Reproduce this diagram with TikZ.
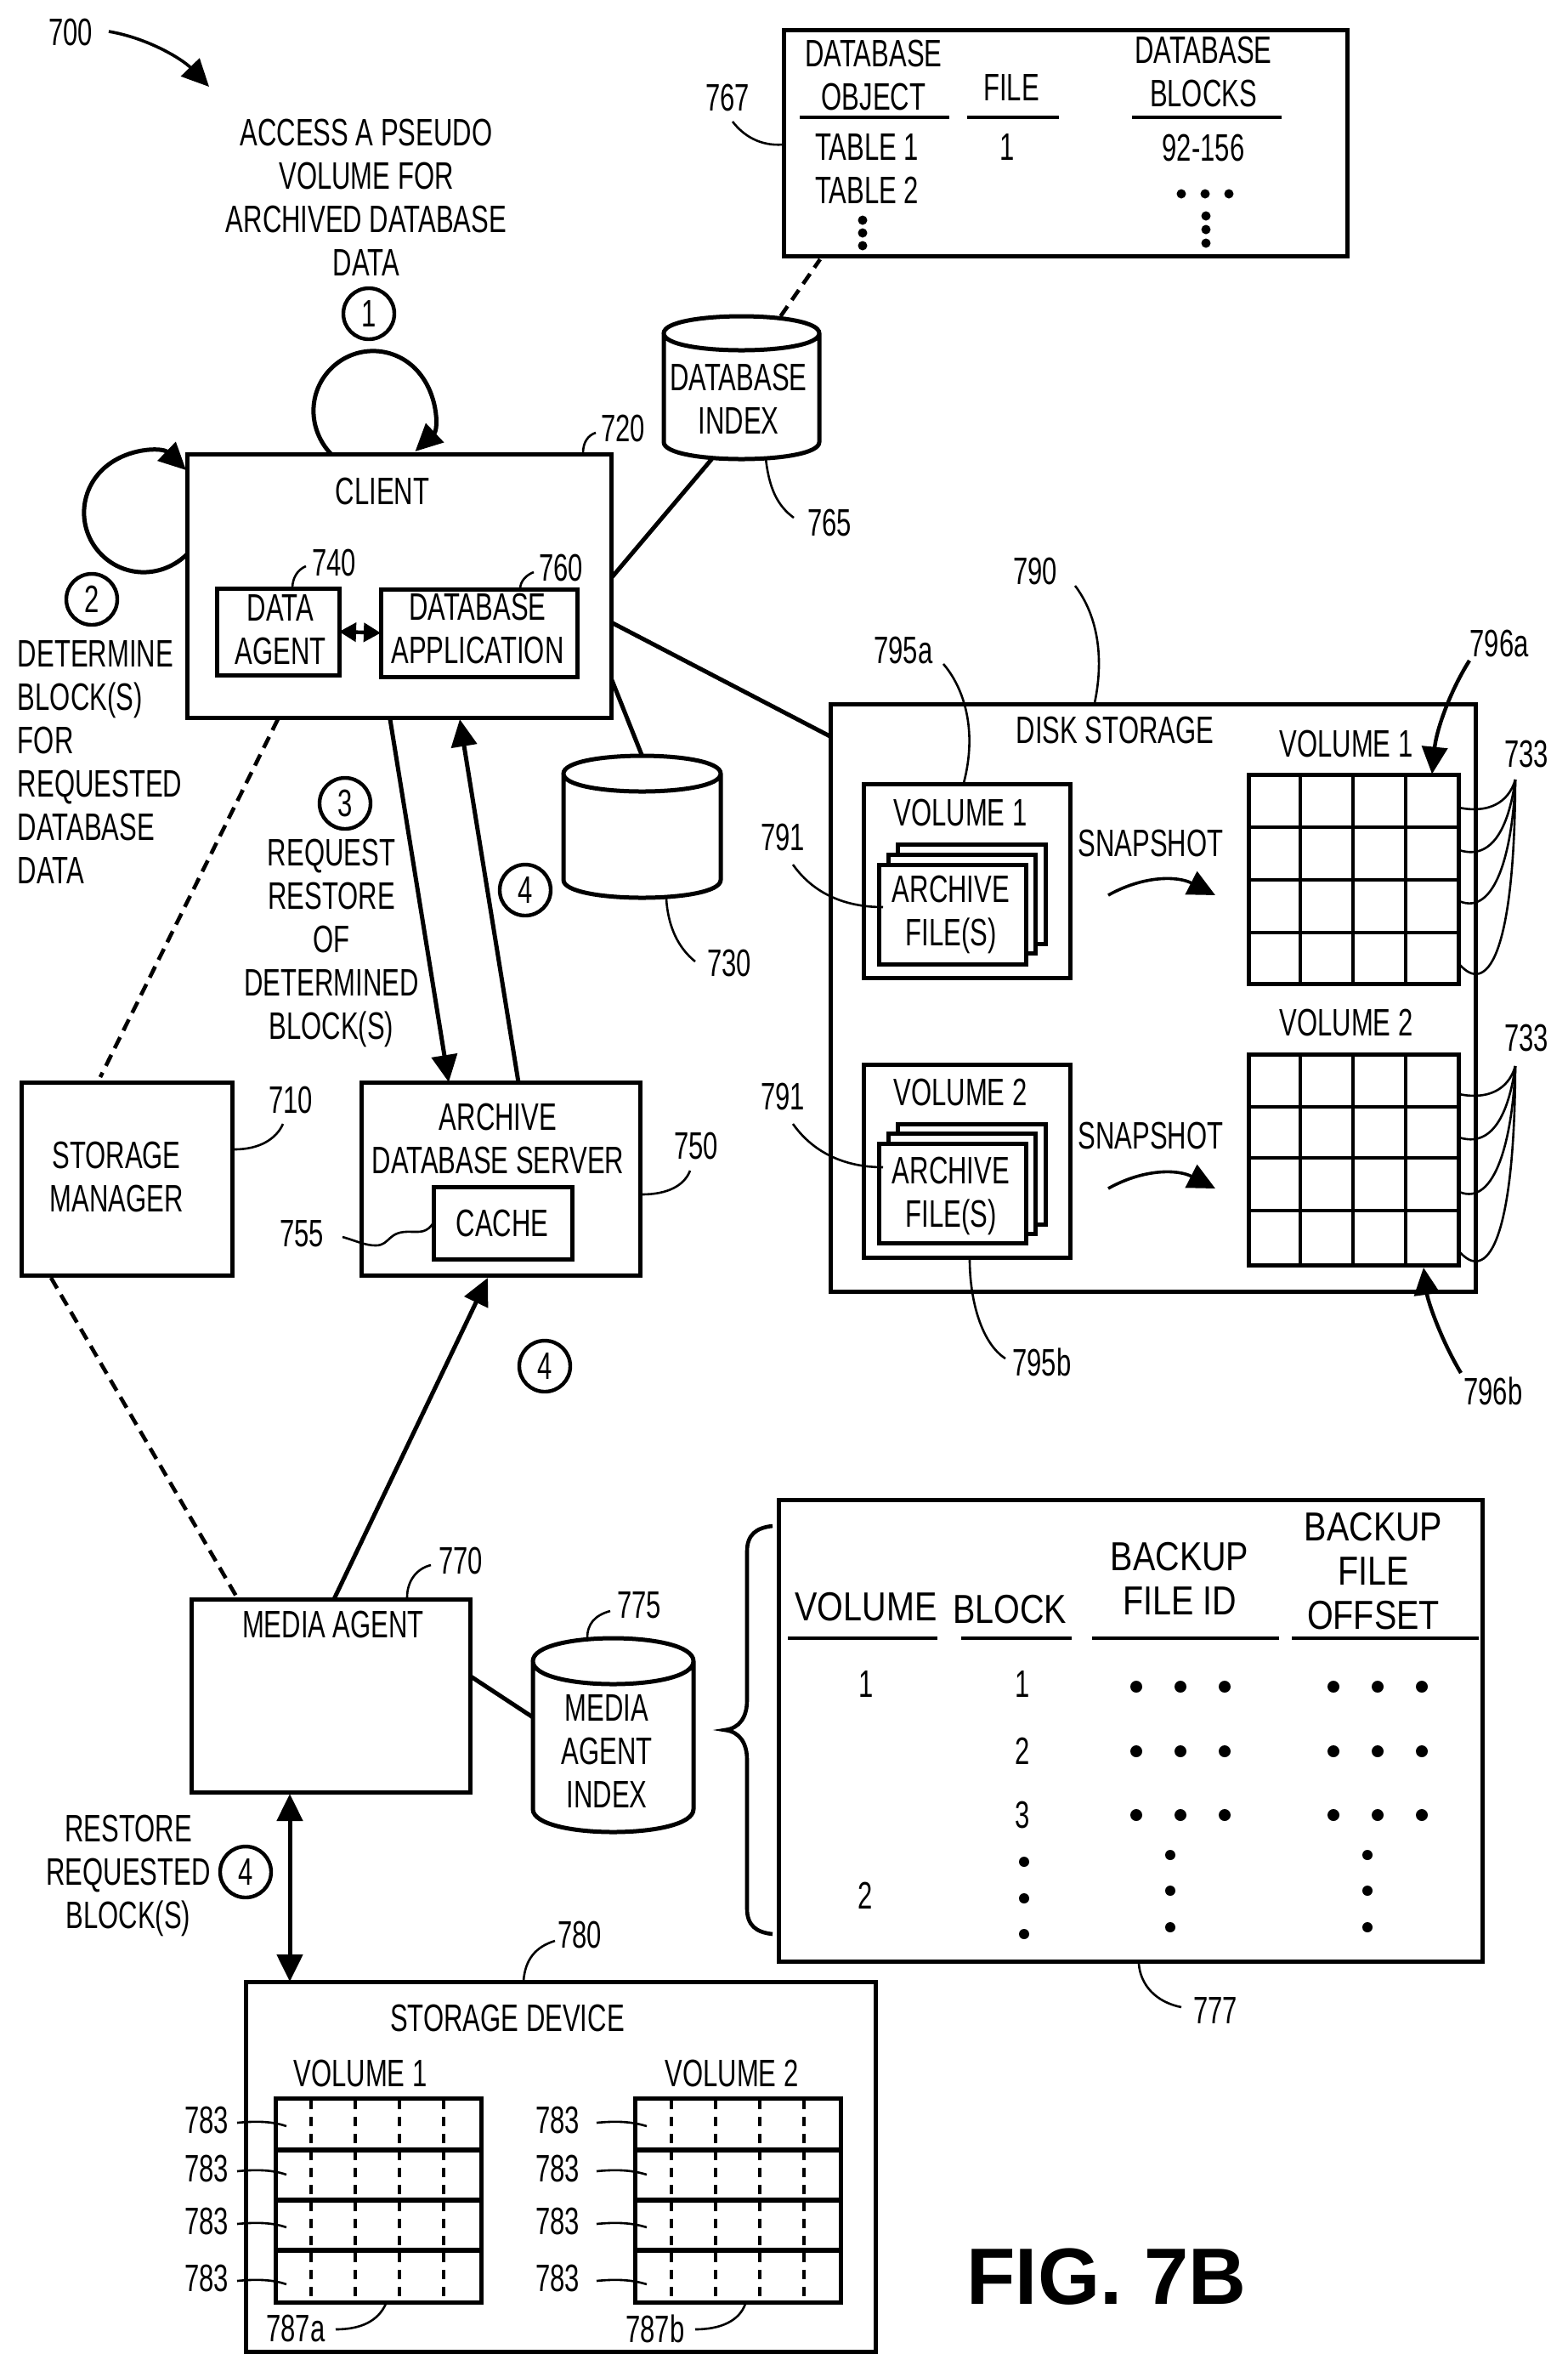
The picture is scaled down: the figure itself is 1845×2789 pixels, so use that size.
\documentclass[tikz,border=0pt]{standalone}
\usepackage{fontspec}
\setmainfont[FakeStretch=0.69]{Liberation Sans}
\newfontfamily\figfont{Liberation Sans}
\newfontfamily\widefont[FakeStretch=0.83]{Liberation Sans}
\usetikzlibrary{arrows.meta}
\tikzset{
  wh/.style 2 args={minimum width=#1*0.25pt,minimum height=#2*0.25pt},
  bx/.style={draw,line width=1.25pt,inner sep=0pt,outer sep=0pt,fill=white},
  ghost/.style={inner sep=0pt,outer sep=0pt},
  txt/.style={inner sep=0pt,outer sep=0pt,align=center,font=\fontsize{11.25}{12.75}\selectfont},
  wtxt/.style={inner sep=0pt,outer sep=0pt,align=center,font=\widefont\fontsize{11.9}{12.9}\selectfont},
  ltxt/.style={txt,align=left,anchor=west},
  num/.style={draw,circle,line width=1.1pt,minimum size=15pt,inner sep=0pt,font=\fontsize{11.25}{12.75}\selectfont},
  conn/.style={line width=1.25pt},
  arr/.style={conn,-{Triangle[length=8pt,width=7.5pt]}},
  dash1/.style={line width=1.15pt,dash pattern=on 3.6pt off 2.2pt},
  leadl/.style={line width=0.65pt},
  uline/.style={line width=1.2pt},
  gridl/.style={line width=1.15pt},
  dashv/.style={line width=0.9pt,dash pattern=on 2.8pt off 2.2pt},
  cyl/.style={line width=1.25pt},
}
\newcommand{\lead}[5]{%
  \coordinate (#1-a) at (#2);\coordinate (#1-b) at (#5);
  \draw[leadl] (#1-a) .. controls (#3) and (#4) .. (#1-b);}
% name, x1, x2, top ellipse centre y, ry, bottom centre y
\newcommand{\cylinder}[6]{%
  \pgfmathsetmacro\cmx{(#2+#3)/2}\pgfmathsetmacro\crx{(#3-#2)/2}
  \pgfmathsetmacro\cbk{#6+1.333*#5}
  \pgfmathsetmacro\ctk{#4+1.333*#5}\pgfmathsetmacro\ctu{#4-1.333*#5}
  \pgfmathsetmacro\cht{#6+#5-#4+#5}\pgfmathsetmacro\ccy{(#4-#5+#6+#5)/2}
  \pgfmathsetmacro\cwd{#3-#2}
  \node[ghost,wh={\cwd}{\cht}] (#1) at (\cmx,\ccy) {};
  \draw[cyl] (#2,#4) -- (#2,#6) .. controls (#2,\cbk) and (#3,\cbk) .. (#3,#6) -- (#3,#4)
     .. controls (#3,\ctu) and (#2,\ctu) .. (#2,#4)
     .. controls (#2,\ctk) and (#3,\ctk) .. (#3,#4);}
\begin{document}
\begin{tikzpicture}[x=0.25pt,y=-0.25pt]
\useasboundingbox (0,0) rectangle (1845,2789);
\fill[white] (0,0) rectangle (1845,2789);

%--- top left
\node[txt] (n700) at (83,38) {700};
\coordinate (a700s) at (128,37);\coordinate (a700e) at (246,102);
\draw[arr,line width=0.9pt] (a700s) .. controls (175,45) and (215,70) .. (a700e);
\node[txt] (access) at (431,232) {ACCESS A PSEUDO\\VOLUME FOR\\ARCHIVED DATABASE\\DATA};
\node[num] (c1) at (434,369) {1};

%--- client
\node[bx,wh={499}{310}] (client) at (469.5,689) {};
\node[txt] (clientt) at (450,578) {CLIENT};
\node[bx,wh={144}{102}] (agent) at (327,743) {};
\node[txt] (agentt) at (330,741) {DATA\\AGENT};
\node[bx,wh={231}{103}] (dbapp) at (563.5,744.5) {};
\node[txt] (dbappt) at (562,739) {DATABASE\\APPLICATION};
\draw[line width=1.1pt,{Triangle[length=5pt,width=5.5pt]}-{Triangle[length=5pt,width=5.5pt]}] (agent.east) -- (dbapp.west);
\node[txt] (n740) at (393,662) {740};
\lead{l740}{344,692}{344,680}{350,670}{360,666}
\node[txt] (n760) at (660,668) {760};
\lead{l760}{612,693}{612,683}{620,676}{628,673}
\node[txt] (n720) at (733,504) {720};
\lead{l720}{686,533}{686,520}{692,512}{701,509}

% loops
\draw[arr] ([shift={(169.5,0)}]client.north west) .. controls (362,505) and (362,461) .. (389.5,433.5)
  .. controls (417,406) and (461,406) .. (488.5,433.5)
  .. controls (516,461) and (516,505) .. ([shift={(268.5,-3)}]client.north west);
\draw[arr] ([shift={(0,118)}]client.north west) .. controls (191,680) and (147,680) .. (119.5,652.5)
  .. controls (92,625) and (92,581) .. (119.5,553.5)
  .. controls (147,526) and (191,526) .. ([shift={(-1,19)}]client.north west);
\node[num] (c2) at (108,705) {2};
\node[ltxt,anchor=north west] (determine) at (21,754) {DETERMINE\\BLOCK(S)\\FOR\\REQUESTED\\DATABASE\\DATA};

%--- database index & table
\cylinder{dbindex}{781}{964}{392}{20}{520}
\node[txt] (dbindext) at (869,469) {DATABASE\\INDEX};
\draw[conn] ([shift={(1,145)}]client.north east) -- ([shift={(-35,0)}]dbindex.south);
\node[txt] (n765) at (976,615) {765};
\lead{l765}{901,539}{905,575}{915,595}{934,609}

\node[bx,wh={663}{266}] (table) at (922+331.5,168) {};
\node[txt] (tabA) at (1028,88) {DATABASE\\OBJECT};
\node[txt] (tabB) at (1190,103) {FILE};
\node[txt] (tabC) at (1416,84) {DATABASE\\BLOCKS};
\draw[uline] (941,138) -- (1117,138);
\draw[uline] (1138,138) -- (1246,138);
\draw[uline] (1332,138) -- (1508,138);
\node[txt] (tab1) at (1020,173) {TABLE 1};
\node[txt] (tab2) at (1020,224) {TABLE 2};
\node[txt] (tabf) at (1185,173) {1};
\node[txt] (tabr) at (1416,174) {92-156};
\foreach \p in {(1015,259),(1015,274),(1015,289),(1390,228),(1418,228),(1446,228),(1419,254),(1419,270),(1419,286)}
  \fill \p circle[radius=5.5];
\node[txt] (n767) at (856,115) {767};
\lead{l767}{862,143}{875,160}{895,172}{921,170}
\draw[dash1] ([shift={(46,0)}]dbindex.north) -- ([shift={(43,4)}]table.south west);

%--- cylinder 730
\cylinder{c730}{663}{848}{910}{21}{1035}
\draw[conn] ([shift={(1,266)}]client.north east) -- (c730.north);
\node[txt] (n730) at (858,1133) {730};
\lead{l730}{784,1057}{786,1090}{798,1115}{818,1131}

%--- middle left
\node[bx,wh={248}{227}] (sm) at (149,1386.5) {};
\node[txt] (smt) at (137,1384) {STORAGE\\MANAGER};
\node[txt] (n710) at (342,1294) {710};
\lead{l710}{276,1352}{305,1352}{325,1340}{333,1322}
\node[bx,wh={328}{227}] (archive) at (589,1386.5) {};
\node[txt] (archivet) at (586,1339) {ARCHIVE\\DATABASE SERVER};
\node[bx,wh={163}{85}] (cache) at (591.5,1438.5) {};
\node[txt] (cachet) at (591,1439) {CACHE};
\node[txt] (n750) at (819,1348) {750};
\lead{l750}{755,1405}{785,1405}{805,1395}{812,1377}
\node[txt] (n755) at (355,1451) {755};
\coordinate (l755a) at (403,1455);
\draw[leadl] (l755a) .. controls (420,1460) and (430,1465) .. (442,1465)
  .. controls (460,1465) and (455,1447) .. (485,1449) .. controls (495,1449) and (502,1450) .. (cache.west);
\node[num] (c3) at (406,945) {3};
\node[txt] (reqt) at (390,1109) {REQUEST\\RESTORE\\OF\\DETERMINED\\BLOCK(S)};
\node[num] (c4a) at (618,1047) {4};
\draw[dash1] ([shift={(107,2)}]client.south west) -- ([shift={(93,-6)}]sm.north west);
\draw[arr] ([shift={(239,2)}]client.south west) -- ([shift={(103,0)}]archive.north west);
\draw[arr] ([shift={(185,0)}]archive.north west) -- ([shift={(321,2)}]client.south west);

%--- disk storage
\node[bx,wh={759}{691}] (disk) at (1357,1174) {};
\draw[conn] ([shift={(2,199)}]client.north east) -- ([shift={(0,38)}]disk.north west);
\node[txt] (diskt) at (1312,859) {DISK STORAGE};
\node[txt] (n790) at (1218,672) {790};
\lead{l790}{1265,689}{1290,722}{1300,770}{1288,827}
\node[txt] (n795a) at (1063,765) {795a};
\lead{l795a}{1110,781}{1135,810}{1150,860}{1134,921}

% volume 1 box
\node[bx,wh={243}{228}] (v1) at (1137.5,1036) {};
\node[txt] (v1t) at (1130,956) {VOLUME 1};
\node[bx,wh={174}{117}] (s1c) at (1143,1051.5) {};
\node[bx,wh={173}{116}] (s1b) at (1131.5,1063) {};
\node[bx,wh={173}{117}] (s1a) at (1120.5,1075.5) {};
\node[txt] (s1t) at (1119,1076) {ARCHIVE\\FILE(S)};
\node[txt] (n791a) at (921,985) {791};
\lead{l791a}{933,1017}{960,1055}{1000,1067}{1039,1067}
\node[txt] (snap1) at (1354,992) {SNAPSHOT};
\coordinate (sa1) at (1304,1053);\coordinate (sa1e) at (1430,1053);
\draw[arr,line width=0.9pt] (sa1) .. controls (1345,1030) and (1385,1030) .. (sa1e);
% volume 2 box
\node[bx,wh={243}{227}] (v2) at (1137.5,1365.5) {};
\node[txt] (v2t) at (1130,1285) {VOLUME 2};
\node[bx,wh={174}{118}] (s2c) at (1143,1381) {};
\node[bx,wh={173}{118}] (s2b) at (1131.5,1392) {};
\node[bx,wh={173}{117}] (s2a) at (1120.5,1403.5) {};
\node[txt] (s2t) at (1119,1406.5) {ARCHIVE\\FILE(S)};
\node[txt] (n791b) at (921,1290) {791};
\lead{l791b}{933,1322}{960,1360}{1000,1373}{1039,1373}
\node[txt] (snap2) at (1354,1336) {SNAPSHOT};
\coordinate (sa2) at (1304,1398);\coordinate (sa2e) at (1430,1398);
\draw[arr,line width=0.9pt] (sa2) .. controls (1345,1375) and (1385,1375) .. (sa2e);
\node[txt] (n795b) at (1226,1602) {795b};
\lead{l795b}{1141,1481}{1141,1530}{1155,1580}{1183,1598}

% grids
\node[bx,wh={247}{246}] (g1) at (1592.5,1034.5) {};
\node[bx,wh={247}{248}] (g2) at (1592.5,1364) {};
\foreach \x in {1530,1592,1654} {\draw[gridl] (\x,912) -- (\x,1158); \draw[gridl] (\x,1240) -- (\x,1488);}
\foreach \y in {973,1035,1097} \draw[gridl] (1469,\y) -- (1716,\y);
\foreach \y in {1302,1362,1424} \draw[gridl] (1469,\y) -- (1716,\y);
\node[txt] (g1t) at (1584,875) {VOLUME 1};
\node[txt] (g2t) at (1584,1203) {VOLUME 2};
\node[txt] (n796a) at (1764,757) {796a};
\coordinate (a796a) at (1729,777);
\draw[arr,line width=1.1pt] (a796a) .. controls (1705,815) and (1690,860) .. ([shift={(216,-1)}]g1.north west);
\node[txt] (n796b) at (1757,1636) {796b};
\coordinate (a796b) at (1719,1615);
\draw[arr,line width=1.1pt] (a796b) .. controls (1695,1575) and (1680,1530) .. ([shift={(206,3)}]g2.south west);
\node[txt] (n733a) at (1796,887) {733};
\node[txt] (n733b) at (1796,1221) {733};
\lead{t1}{1717,950}{1750,957}{1775,945}{1783,917}
\lead{t2}{1717,1000}{1755,1012}{1775,975}{1783,917}
\lead{t3}{1717,1060}{1760,1078}{1780,1000}{1783,917}
\lead{t4}{1717,1134}{1748,1170}{1782,1130}{1783,917}
\lead{t5}{1717,1287}{1750,1294}{1775,1282}{1783,1254}
\lead{t6}{1717,1338}{1755,1350}{1775,1312}{1783,1254}
\lead{t7}{1717,1402}{1760,1420}{1780,1337}{1783,1254}
\lead{t8}{1717,1472}{1748,1508}{1782,1467}{1783,1254}

%--- media agent
\node[bx,wh={328}{227}] (media) at (389,1994.5) {};
\node[txt] (mediat) at (392,1911) {MEDIA AGENT};
\draw[arr] ([shift={(168,0)}]media.north west) -- ([shift={(149,3)}]archive.south west);
\draw[dash1] ([shift={(35,3)}]sm.south west) -- ([shift={(55,0)}]media.north west);
\node[num] (c4b) at (641,1607) {4};
\node[txt] (n770) at (542,1836) {770};
\lead{l770}{479,1879}{479,1860}{490,1845}{507,1841}
\cylinder{mai}{627}{816}{1954}{27}{2128}
\draw[conn] ([shift={(1,91)}]media.north east) -- ([shift={(0,93)}]mai.north west);
\node[txt] (mait) at (714,2060) {MEDIA\\AGENT\\INDEX};
\node[txt] (n775) at (752,1888) {775};
\lead{l775}{691,1927}{691,1910}{700,1900}{718,1895}
\node[txt] (restore) at (151,2206) {RESTORE\\REQUESTED\\BLOCK(S)};
\node[num] (c4c) at (289,2202) {4};

%--- table 777
\node[bx,wh={828}{543}] (idx) at (1330.5,2035.5) {};
\draw[line width=1.15pt] (909,1795) .. controls (890,1797) and (879,1805) .. (879,1825) -- (879,2000)
  .. controls (879,2020) and (870,2033) .. (853,2035)
  .. controls (870,2037) and (879,2050) .. (879,2070) -- (879,2245)
  .. controls (879,2265) and (890,2273) .. (909,2275);
\node[wtxt] (h1) at (1019,1890) {VOLUME};
\node[wtxt] (h2) at (1188,1893) {BLOCK};
\node[wtxt] (h3) at (1388,1857) {BACKUP\\FILE ID};
\node[wtxt] (h4) at (1616,1848) {BACKUP\\FILE\\OFFSET};
\draw[uline] (927,1927) -- (1103,1927);
\draw[uline] (1131,1927) -- (1261,1927);
\draw[uline] (1285,1927) -- (1505,1927);
\draw[uline] (1520,1927) -- (1740,1927);
\node[txt] (r1) at (1019,1981) {1};
\node[txt] (r2) at (1203,1981) {1};
\node[txt] (r3) at (1203,2060) {2};
\node[txt] (r4) at (1203,2135) {3};
\node[txt] (r5) at (1018,2230) {2};
\foreach \y in {1984,2060,2135} \foreach \x in {1337,1389,1441,1569,1621,1673} \fill (\x,\y) circle[radius=7];
\foreach \y in {2190,2233,2275} \fill (1205,\y) circle[radius=6];
\foreach \y in {2182,2224,2267} {\fill (1377,\y) circle[radius=6]; \fill (1609,\y) circle[radius=6];}
\node[txt] (n777) at (1430,2365) {777};
\lead{l777}{1340,2310}{1342,2335}{1360,2355}{1390,2361}

%--- storage device
\node[bx,wh={741}{435}] (stor) at (659.5,2548.5) {};
\draw[conn,{Triangle[length=8pt,width=7.5pt]}-{Triangle[length=8pt,width=7.5pt]}] ([shift={(116,2)}]media.south west) -- ([shift={(52,0)}]stor.north west);
\node[txt] (stort) at (597,2374) {STORAGE DEVICE};
\node[txt] (n780) at (682,2276) {780};
\lead{l780}{616,2330}{618,2305}{630,2290}{653,2283}
\node[txt] (sv1) at (424,2439) {VOLUME 1};
\node[txt] (sv2) at (861,2439) {VOLUME 2};
\node[bx,wh={242}{240}] (ga) at (445,2588) {};
\node[bx,wh={242}{240}] (gb) at (868,2588) {};
\foreach \y in {2529,2588,2647} {\draw[line width=1.3pt] (ga.west |- 0,\y) -- (ga.east |- 0,\y); \draw[line width=1.3pt] (gb.west |- 0,\y) -- (gb.east |- 0,\y);}
\foreach \x in {366,418,470,522,790,842,894,946} \draw[dashv] (\x,2470) -- (\x,2706);
\foreach \y/\k in {2494/a,2551/b,2613/c,2680/d} {
  \node[txt] (m\k) at (243,\y) {783};
  \node[txt] (p\k) at (656,\y) {783};
  \pgfmathsetmacro\ya{\y+3}\pgfmathsetmacro\yc{\y+1}\pgfmathsetmacro\yb{\y+7}
  \lead{ml\k}{279,\ya}{300,\yc}{320,\yc}{337,\yb}
  \lead{pl\k}{702,\ya}{722,\yc}{742,\yc}{761,\yb}
}
\node[txt] (n787a) at (348,2739) {787a};
\lead{l787a}{395,2740}{425,2740}{445,2730}{454,2710}
\node[txt] (n787b) at (771,2739) {787b};
\lead{l787b}{818,2740}{848,2740}{870,2730}{877,2710}

%--- figure label
\node[inner sep=0pt,font=\figfont\fontsize{23.5}{26}\selectfont\bfseries] (fig) at (1302,2678) {FIG. 7B};
\end{tikzpicture}
\end{document}
